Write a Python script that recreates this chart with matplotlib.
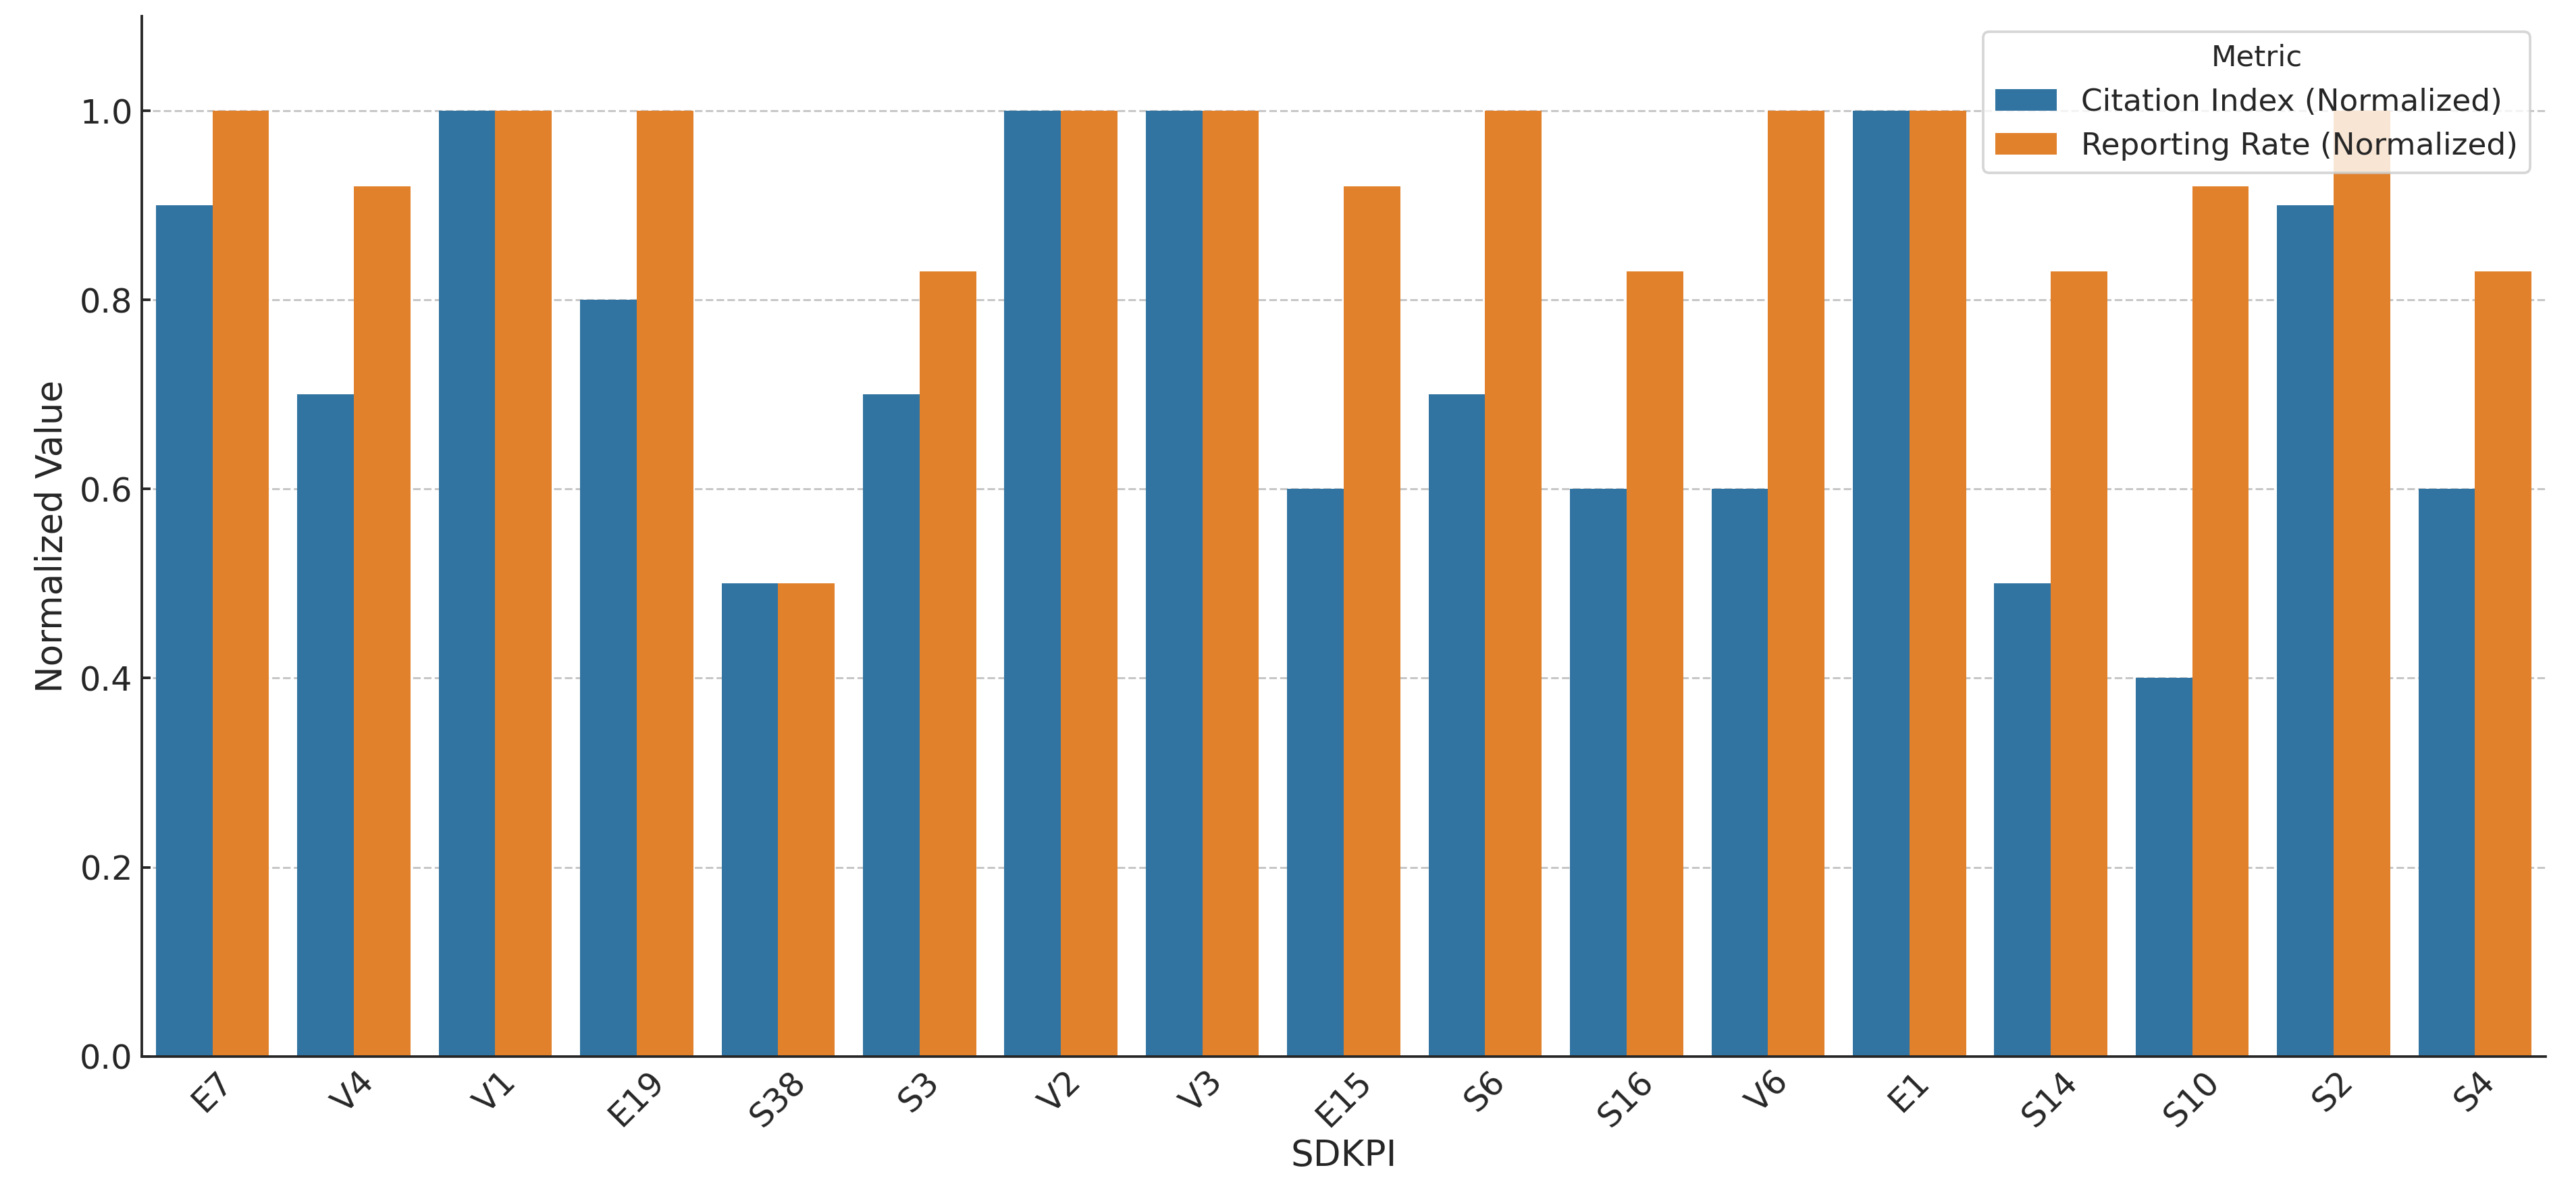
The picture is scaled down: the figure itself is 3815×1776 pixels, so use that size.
import matplotlib
matplotlib.use('Agg')
from matplotlib import pyplot as plt
import numpy as np

kpis = ['E7', 'V4', 'V1', 'E19', 'S38', 'S3', 'V2', 'V3', 'E15',
        'S6', 'S16', 'V6', 'E1', 'S14', 'S10', 'S2', 'S4']
citation = [0.9, 0.7, 1.0, 0.8, 0.5, 0.7, 1.0, 1.0, 0.6,
            0.7, 0.6, 0.6, 1.0, 0.5, 0.4, 0.9, 0.6]
reporting = [1.0, 0.92, 1.0, 1.0, 0.5, 0.83, 1.0, 1.0, 0.92,
             1.0, 0.83, 1.0, 1.0, 0.83, 0.92, 1.0, 0.83]
series_names = ['Citation Index (Normalized)', 'Reporting Rate (Normalized)']

plt.rcParams['font.family'] = ['DejaVu Sans']
plt.rcParams['text.color'] = '#262626'
plt.rcParams['axes.labelcolor'] = '#262626'
plt.rcParams['xtick.color'] = '#262626'
plt.rcParams['ytick.color'] = '#262626'

x = np.arange(len(kpis))
w = 0.4

fig, ax = plt.subplots(figsize=(14, 6.516))
fig.subplots_adjust(left=0.055, right=0.988, top=0.9865, bottom=0.119)

ax.bar(x - w/2, citation, w, color='#3274a1', label=series_names[0], zorder=2)
ax.bar(x + w/2, reporting, w, color='#e1812c', label=series_names[1], zorder=2)

ax.set_xticks(x)
ax.set_xticklabels(kpis, rotation=45, fontsize=13)
ax.tick_params(axis='y', labelsize=13)
ax.tick_params(direction='in', length=3.5, width=1.0)
ax.set_xlim(-0.5, len(kpis) - 0.5)
ax.set_ylim(0, 1.1)
ax.set_yticks([0.0, 0.2, 0.4, 0.6, 0.8, 1.0])
ax.set_xlabel('SDKPI', fontsize=14, labelpad=2)
ax.set_ylabel('Normalized Value', fontsize=14)

ax.yaxis.grid(True, linestyle='--', color='#b0b0b0', alpha=0.7, linewidth=0.8, zorder=0)
ax.set_axisbelow(True)
for side in ['top', 'right']:
    ax.spines[side].set_visible(False)
for side in ['left', 'bottom']:
    ax.spines[side].set_color('#262626')
    ax.spines[side].set_linewidth(1.0)

ax.legend(title='Metric', loc='upper right', fontsize=12, title_fontsize=11.5,
          labelspacing=0.5, borderaxespad=0.5)

fig.savefig('out.png', dpi=272.57)
